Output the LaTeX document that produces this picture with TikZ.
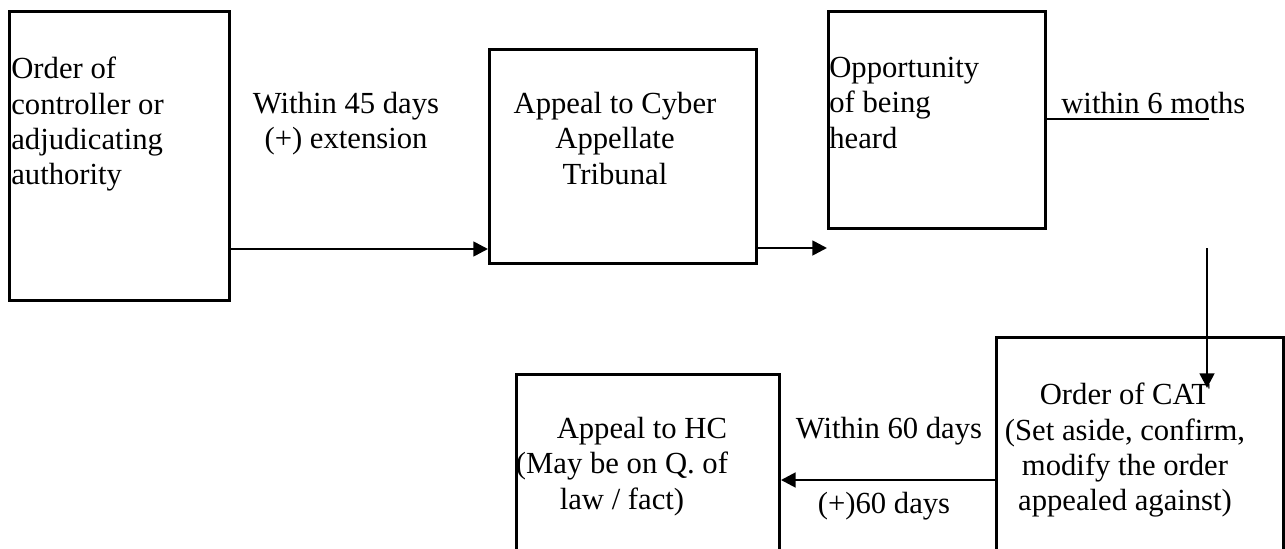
\documentclass[tikz,border=0pt]{standalone}
\usepackage{fontspec}
\setmainfont{Liberation Serif}
\usepackage{tikz}
\usetikzlibrary{arrows.meta}

\tikzset{
  box/.style={draw=black,line width=2.2pt,anchor=north west,inner sep=0pt},
  label/.style={inner sep=0pt,font=\fontsize{23}{26.5}\selectfont},
}

\begin{document}
\begin{tikzpicture}[x=0.75pt,y=-0.75pt]
\useasboundingbox (0,0) rectangle (1285,549);
\clip (0,0) rectangle (1285,549);
\begin{scope}[>={Triangle[length=11pt,width=11pt]},line width=2pt]

    % boxes
    \node[box,minimum width=165pt,minimum height=216.75pt] (order) at (8,10) {};
    \node[box,minimum width=200.25pt,minimum height=160.5pt] (cyber) at (488,48) {};
    \node[box,minimum width=162.75pt,minimum height=162.75pt] (hearing) at (827,10) {};
    \node[box,minimum width=215.25pt,minimum height=175.5pt] (catorder) at (995,336) {};
    \node[box,minimum width=197.25pt,minimum height=147.75pt] (hc) at (515,373) {};

    % box texts
    \node[label,anchor=north west,align=left] (ordertext) at (10,56)
        {Order of\\controller or\\adjudicating\\authority};
    \node[label,anchor=north,align=center] (cybertext) at (615,91)
        {Appeal to Cyber\\Appellate\\Tribunal};
    \node[label,anchor=north west,align=left] (hearingtext) at (828,56)
        {Opportunity\\of being\\heard};
    \node[label,anchor=north,align=center] (cattext) at (1125,382)
        {Order of CAT\\(Set aside, confirm,\\modify the order\\appealed against)};
    \node[label,anchor=north,align=center] (hctext) at (622,416)
        {\hspace*{1.3em}Appeal to HC\\(May be on Q. of\\law / fact)};

    % time limits
    \node[label,anchor=north,align=center] (days45) at (346,91)
        {Within 45 days\\(+) extension};
    \node[label,anchor=north west] (months) at (1060,91) {within 6 moths};
    \node[label,anchor=north] (days60) at (889,416) {Within 60 days};
    \node[label,anchor=north] (plus60) at (884,491) {(+)60 days};

    % connectors
    \draw[->] (order.east |- 0,249) -- (cyber.west |- 0,249);
    \draw[->] (cyber.east |- 0,248) -- (hearing.west |- 0,248);

    \coordinate (lineend) at (1209,119);
    \draw[line width=2.2pt] (hearing.east |- lineend) -- (lineend);

    \coordinate (drop) at (1207,248);
    \coordinate (droptip) at (1207,388);
    \draw[->] (drop) -- (droptip);

    \draw[->] (catorder.west |- 0,480) -- (hc.east |- 0,480);

\end{scope}
\end{tikzpicture}
\end{document}
